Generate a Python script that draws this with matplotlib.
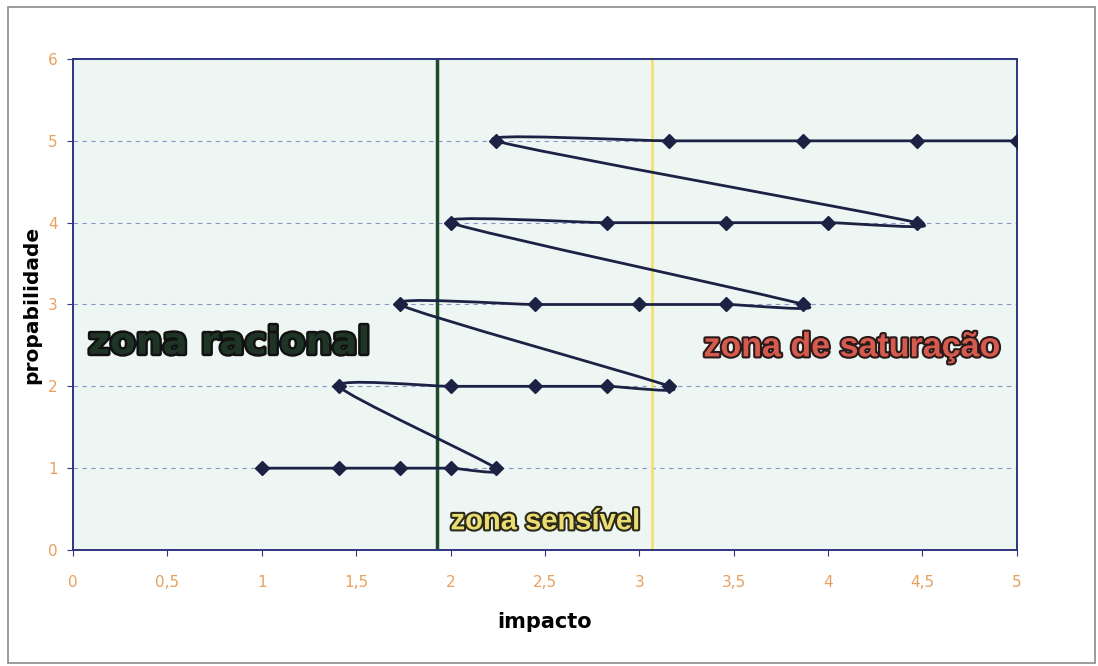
import matplotlib
matplotlib.use('Agg')
import matplotlib.pyplot as plt
import matplotlib.patheffects as pe
from matplotlib.path import Path
from matplotlib.patches import PathPatch, Rectangle
from matplotlib.ticker import FuncFormatter

### dados ##################################################################

impacto = [1.00, 1.41, 1.73, 2.00, 2.24,
           1.41, 2.00, 2.45, 2.83, 3.16,
           1.73, 2.45, 3.00, 3.46, 3.87,
           2.00, 2.83, 3.46, 4.00, 4.47,
           2.24, 3.16, 3.87, 4.47, 5.00]
propabilidade = [1, 1, 1, 1, 1,
                 2, 2, 2, 2, 2,
                 3, 3, 3, 3, 3,
                 4, 4, 4, 4, 4,
                 5, 5, 5, 5, 5]
limite_racional = 1.93
limite_sensivel = 3.07
x_ticks = [0, 0.5, 1, 1.5, 2, 2.5, 3, 3.5, 4, 4.5, 5]
y_ticks = [0, 1, 2, 3, 4, 5, 6]

### figura ##################################################################

fig = plt.figure(figsize=(10.98, 6.66), dpi=100)
fig.patch.set_facecolor('white')
fig.patches.append(Rectangle((0.007, 0.005), 0.99, 0.985, transform=fig.transFigure,
                             fill=False, edgecolor='#8a8a8a', lw=1.2))

ax = fig.add_axes([0.0665, 0.1742, 0.8595, 0.7372])
ax.set_facecolor('#edf6f3')
ax.set_xlim(0, 5)
ax.set_ylim(0, 6)

for s in ax.spines.values():
    s.set_color('#2e3580')
    s.set_linewidth(1.4)

ax.set_xticks(x_ticks)
ax.set_yticks(y_ticks)
fmt = FuncFormatter(lambda v, p: ('%g' % v).replace('.', ','))
ax.xaxis.set_major_formatter(fmt)
ax.yaxis.set_major_formatter(fmt)
ax.tick_params(axis='both', colors='#2e3580', labelcolor='#e8a060', labelsize=11,
               length=4, direction='out')
ax.tick_params(axis='x', pad=14)
ax.tick_params(axis='y', pad=7)

ax.yaxis.grid(True, linestyle=(0, (4, 4)), color='#8a96c8', lw=0.8)
ax.set_axisbelow(True)

ax.set_xlabel('impacto', fontsize=15, fontweight='bold', labelpad=16)
ax.set_ylabel('propabilidade', fontsize=14.5, fontweight='bold', labelpad=5)

### linha suavizada (estilo Excel) ##################################################################

k = 1 / 9
pts = list(zip(impacto, propabilidade))
verts = [pts[0]]
codes = [Path.MOVETO]
n = len(pts)
for i in range(n - 1):
    p0 = pts[i - 1] if i > 0 else pts[i]
    p1 = pts[i]
    p2 = pts[i + 1]
    p3 = pts[i + 2] if i + 2 < n else pts[i + 1]
    c1 = (p1[0] + (p2[0] - p0[0]) * k, p1[1] + (p2[1] - p0[1]) * k)
    c2 = (p2[0] - (p3[0] - p1[0]) * k, p2[1] - (p3[1] - p1[1]) * k)
    verts += [c1, c2, p2]
    codes += [Path.CURVE4] * 3
ax.add_patch(PathPatch(Path(verts, codes), fill=False, edgecolor='#1c2244', lw=2, zorder=3))
ax.plot(impacto, propabilidade, linestyle='none', marker='D', markersize=7,
        color='#1c2244', zorder=4)

ax.axvline(limite_racional, color='#1f4a2a', lw=2.5, zorder=2)
ax.axvline(limite_sensivel, color='#f2e46a', lw=2, zorder=2)

### textos ##################################################################

ax.text(0.08, 2.52, 'zona racional', fontsize=27, fontweight='heavy', color='#1e3526',
        family='DejaVu Sans', va='center', ha='left',
        path_effects=[pe.withStroke(linewidth=3.5, foreground='#111111')], zorder=5)
ax.text(3.34, 2.47, 'zona de saturação', fontsize=24.5, fontweight='bold', color='#d65a4e',
        family='Liberation Sans', va='center', ha='left',
        path_effects=[pe.withStroke(linewidth=3, foreground='#2a1a1a')], zorder=5)
ax.text(2.0, 0.35, 'zona sensível', fontsize=21, fontweight='bold', color='#ecdc72',
        family='Liberation Sans', va='center', ha='left',
        path_effects=[pe.withStroke(linewidth=3, foreground='#2a2a1a')], zorder=5)

fig.savefig('out.png', dpi=100)
